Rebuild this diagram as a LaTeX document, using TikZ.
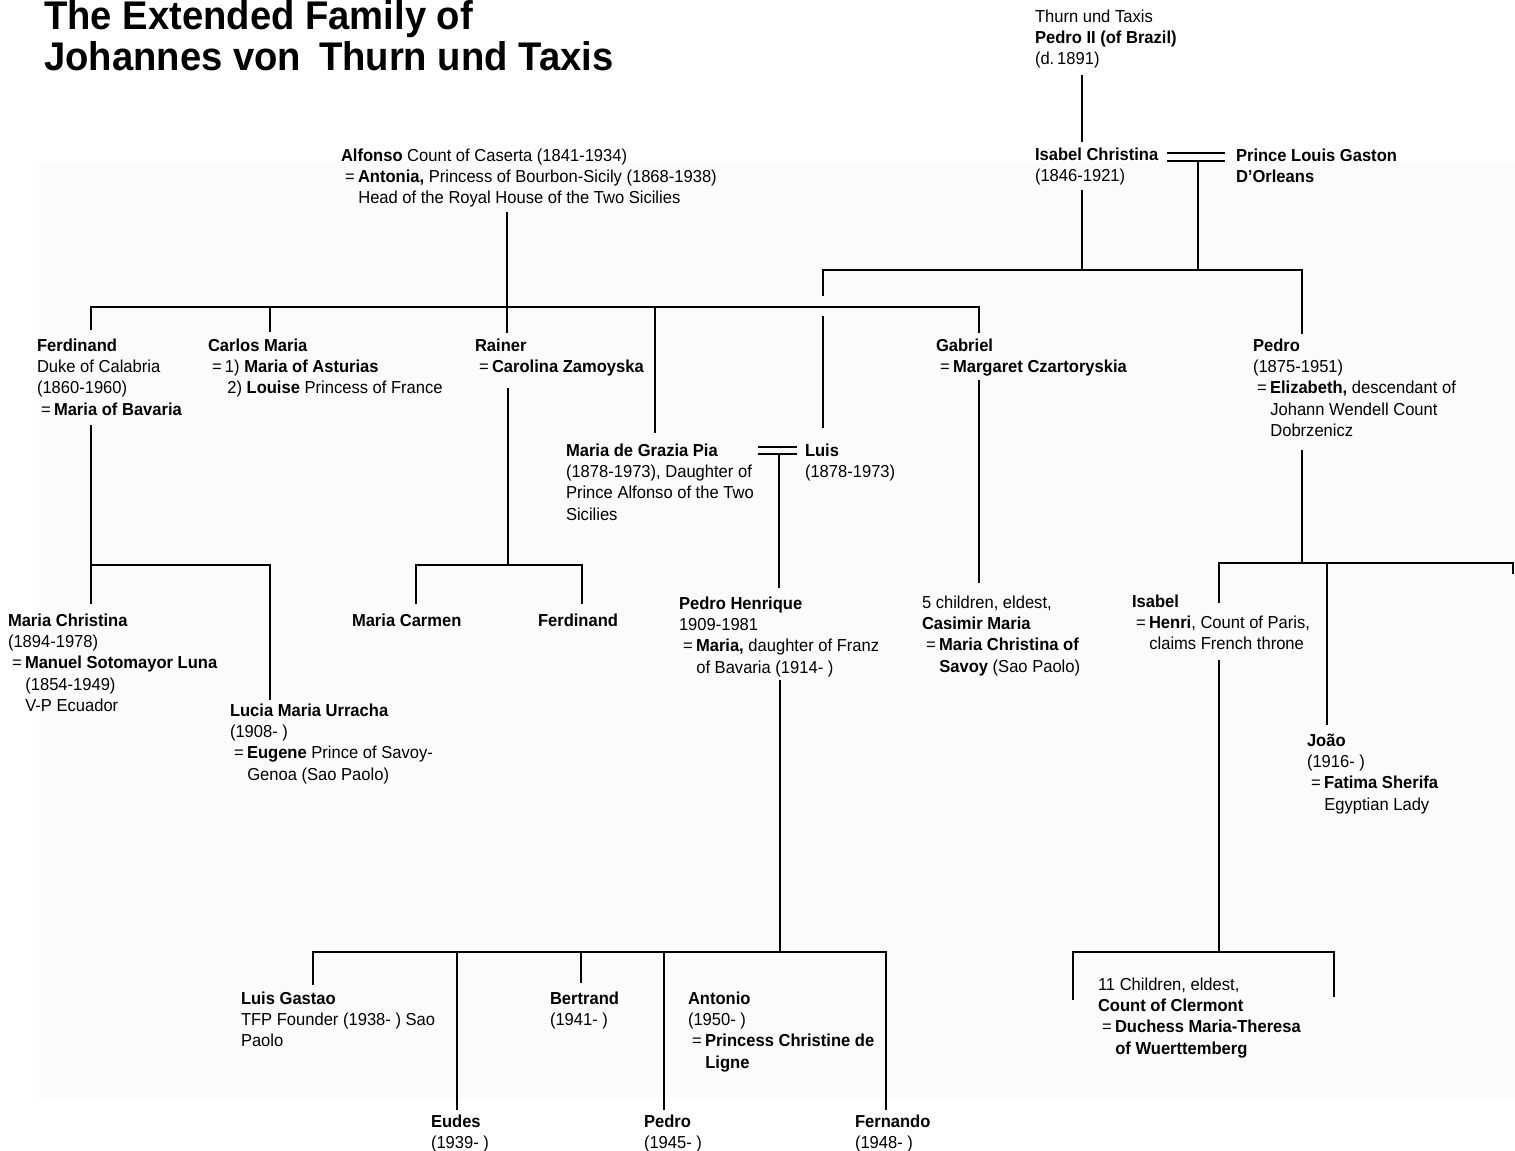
\documentclass[tikz,border=0pt]{standalone}
\usepackage{fontspec}
\setmainfont{Liberation Sans}[FakeStretch=0.955]
\newcommand\fs{\fontsize{13pt}{15.9pt}\selectfont}
\newcommand\eqq{\hspace*{3pt}=\hspace{2.5pt}}
\newcommand\indd{\hspace*{13pt}}
\definecolor{paper}{HTML}{FBFBFB}
\tikzset{
  person/.style={anchor=north west, inner sep=0pt, outer sep=0pt, align=left, font=\fs},
  ln/.style={line width=1.4pt, line join=miter},
  dbl/.style={line width=1.7pt},
}
\begin{document}
\begin{tikzpicture}[x=0.75pt,y=-0.75pt]
\useasboundingbox (0,0) rectangle (1515,1151);
\fill[white] (0,0) rectangle (1515,1151);
\fill[paper] (39,162) rectangle (1515,1100);

% title
\node[anchor=north west, inner sep=0pt, align=left, font=\fontsize{30pt}{30.5pt}\selectfont\bfseries] (title) at (44,0.5)
  {The Extended Family of\\Johannes von\hspace{0.45em}Thurn und Taxis};

% people
\node[person] (thurn) at (1035,10) {Thurn und Taxis\\\textbf{Pedro II (of Brazil)}\\(d.\,1891)};
\node[person] (isabelc) at (1035,148) {\textbf{Isabel Christina}\\(1846-1921)};
\node[person] (louis) at (1236,149) {\textbf{Prince Louis Gaston}\\\textbf{D'Orleans}};
\node[person] (alfonso) at (341,149) {\textbf{Alfonso} Count of Caserta (1841-1934)\\\eqq\textbf{Antonia,} Princess of Bourbon-Sicily (1868-1938)\\\indd Head of the Royal House of the Two Sicilies};
\node[person] (ferd) at (37,339) {\textbf{Ferdinand}\\Duke of Calabria\\(1860-1960)\\\eqq\textbf{Maria of Bavaria}};
\node[person] (carlos) at (208,339) {\textbf{Carlos Maria}\\\eqq1) \textbf{Maria of Asturias}\\\hspace*{14.5pt}2) \textbf{Louise} Princess of France};
\node[person] (rainer) at (475,339) {\textbf{Rainer}\\\eqq\textbf{Carolina Zamoyska}};
\node[person] (gabriel) at (936,339) {\textbf{Gabriel}\\\eqq\textbf{Margaret Czartoryskia}};
\node[person] (pedro) at (1253,339) {\textbf{Pedro}\\(1875-1951)\\\eqq\textbf{Elizabeth,} descendant of\\\indd Johann Wendell Count\\\indd Dobrzenicz};
\node[person] (mgrazia) at (566,444) {\textbf{Maria de Grazia Pia}\\(1878-1973), Daughter of\\Prince Alfonso of the Two\\Sicilies};
\node[person] (luis) at (805,444) {\textbf{Luis}\\(1878-1973)};
\node[person] (mchristina) at (8,614) {\textbf{Maria Christina}\\(1894-1978)\\\eqq\textbf{Manuel Sotomayor Luna}\\\indd(1854-1949)\\\indd V-P Ecuador};
\node[person] (lucia) at (230,704) {\textbf{Lucia Maria Urracha}\\(1908-\ )\\\eqq\textbf{Eugene} Prince of Savoy-\\\indd Genoa (Sao Paolo)};
\node[person] (mcarmen) at (352,614) {\textbf{Maria Carmen}};
\node[person] (ferd2) at (538,614) {\textbf{Ferdinand}};
\node[person] (phenrique) at (679,597) {\textbf{Pedro Henrique}\\1909-1981\\\eqq\textbf{Maria,} daughter of Franz\\\indd of Bavaria (1914-\ )};
\node[person] (five) at (922,596) {5 children, eldest,\\\textbf{Casimir Maria}\\\eqq\textbf{Maria Christina of}\\\indd\textbf{Savoy} (Sao Paolo)};
\node[person] (isabel) at (1132,595) {\textbf{Isabel}\\\eqq\textbf{Henri}, Count of Paris,\\\indd claims French throne};
\node[person] (joao) at (1307,734) {\textbf{João}\\(1916-\ )\\\eqq\textbf{Fatima Sherifa}\\\indd Egyptian Lady};
\node[person] (eleven) at (1098,978) {11 Children, eldest,\\\textbf{Count of Clermont}\\\eqq\textbf{Duchess Maria-Theresa}\\\indd\textbf{of Wuerttemberg}};
\node[person] (lgastao) at (241,992) {\textbf{Luis Gastao}\\TFP Founder (1938-\ ) Sao\\Paolo};
\node[person] (bertrand) at (550,992) {\textbf{Bertrand}\\(1941-\ )};
\node[person] (antonio) at (688,992) {\textbf{Antonio}\\(1950-\ )\\\eqq\textbf{Princess Christine de}\\\indd\textbf{Ligne}};
\node[person] (eudes) at (431,1115) {\textbf{Eudes}\\(1939-\ )};
\node[person] (pedrob) at (644,1115) {\textbf{Pedro}\\(1945-\ )};
\node[person] (fernando) at (855,1115) {\textbf{Fernando}\\(1948-\ )};

% junction coordinates
\coordinate (pIIdown) at (1082,75);
\coordinate (icTop) at (1082,142);
\coordinate (icDown) at (1082,190);
\coordinate (icBar) at (1082,270);
\coordinate (m1aL) at (1167,153); \coordinate (m1aR) at (1225,153);
\coordinate (m1bL) at (1167,161); \coordinate (m1bR) at (1225,161);
\coordinate (m1mid) at (1198,161); \coordinate (m1bar) at (1198,270);
\coordinate (barAL) at (823,270); \coordinate (barAR) at (1302,270);
\coordinate (luisGapTop) at (823,296); \coordinate (luisGapBot) at (823,316);
\coordinate (luisTop) at (823,428);
\coordinate (pedroTop) at (1302,334);

\coordinate (alfDown) at (507,212);
\coordinate (rainerTop) at (507,333);
\coordinate (barBL) at (91,307); \coordinate (barBR) at (979,307);
\coordinate (ferdTop) at (91,330);
\coordinate (carlosBar) at (270,307); \coordinate (carlosTop) at (270,332);
\coordinate (mgBar) at (655,307); \coordinate (mgTop) at (655,433);
\coordinate (gabTop) at (979,333);

\coordinate (ferdDown) at (91,425); \coordinate (barCL) at (91,565); \coordinate (barCR) at (270,565);
\coordinate (mcTop) at (91,604); \coordinate (luciaTop) at (270,700);

\coordinate (rainerDown) at (508,388); \coordinate (rainerBar) at (508,565);
\coordinate (barDL) at (416,565); \coordinate (barDR) at (582,565);
\coordinate (carmenTop) at (416,604); \coordinate (ferd2Top) at (582,604);

\coordinate (m2aL) at (758,447); \coordinate (m2aR) at (797,447);
\coordinate (m2bL) at (758,454); \coordinate (m2bR) at (797,454);
\coordinate (m2mid) at (779,454); \coordinate (phTop) at (779,588);

\coordinate (gabDown) at (979,380); \coordinate (fiveTop) at (979,583);

\coordinate (pedroDown) at (1302,450); \coordinate (pedroBar) at (1302,563);
\coordinate (barEL) at (1219,563); \coordinate (barER) at (1513,563); \coordinate (barEend) at (1513,574);
\coordinate (isabelTop) at (1219,603);
\coordinate (joaoBar) at (1327,563); \coordinate (joaoTop) at (1327,725);

\coordinate (isabelDown) at (1219,660); \coordinate (isabelBar) at (1219,952);
\coordinate (barFL) at (1073,952); \coordinate (barFR) at (1334,952);
\coordinate (barFLend) at (1073,1000); \coordinate (barFRend) at (1334,997);

\coordinate (phDown) at (780,680); \coordinate (phBar) at (780,952);
\coordinate (barGL) at (313,952); \coordinate (barGR) at (886,952);
\coordinate (lgTop) at (313,985);
\coordinate (eudesBar) at (457,952); \coordinate (eudesTop) at (457,1110);
\coordinate (bertBar) at (581,952); \coordinate (bertTop) at (581,983);
\coordinate (pedrobBar) at (664,952); \coordinate (pedrobTop) at (664,1110);
\coordinate (fernTop) at (886,1110);

% connectors
\draw[ln] (pIIdown) -- (icTop);
\draw[ln] (icDown) -- (icBar);
\draw[dbl] (m1aL) -- (m1aR);
\draw[dbl] (m1bL) -- (m1bR);
\draw[ln] (m1mid) -- (m1bar);
\draw[ln] (luisGapTop) -- (barAL) -- (barAR) -- (pedroTop);
\draw[ln] (luisGapBot) -- (luisTop);

\draw[ln] (alfDown) -- (rainerTop);
\draw[ln] (ferdTop) -- (barBL) -- (barBR) -- (gabTop);
\draw[ln] (carlosBar) -- (carlosTop);
\draw[ln] (mgBar) -- (mgTop);

\draw[ln] (ferdDown) -- (barCL);
\draw[ln] (mcTop) -- (barCL) -- (barCR) -- (luciaTop);

\draw[ln] (rainerDown) -- (rainerBar);
\draw[ln] (carmenTop) -- (barDL) -- (barDR) -- (ferd2Top);

\draw[dbl] (m2aL) -- (m2aR);
\draw[dbl] (m2bL) -- (m2bR);
\draw[ln] (m2mid) -- (phTop);

\draw[ln] (gabDown) -- (fiveTop);

\draw[ln] (pedroDown) -- (pedroBar);
\draw[ln] (isabelTop) -- (barEL) -- (barER) -- (barEend);
\draw[ln] (joaoBar) -- (joaoTop);

\draw[ln] (isabelDown) -- (isabelBar);
\draw[ln] (barFLend) -- (barFL) -- (barFR) -- (barFRend);

\draw[ln] (phDown) -- (phBar);
\draw[ln] (lgTop) -- (barGL) -- (barGR) -- (fernTop);
\draw[ln] (eudesBar) -- (eudesTop);
\draw[ln] (bertBar) -- (bertTop);
\draw[ln] (pedrobBar) -- (pedrobTop);
\end{tikzpicture}
\end{document}
